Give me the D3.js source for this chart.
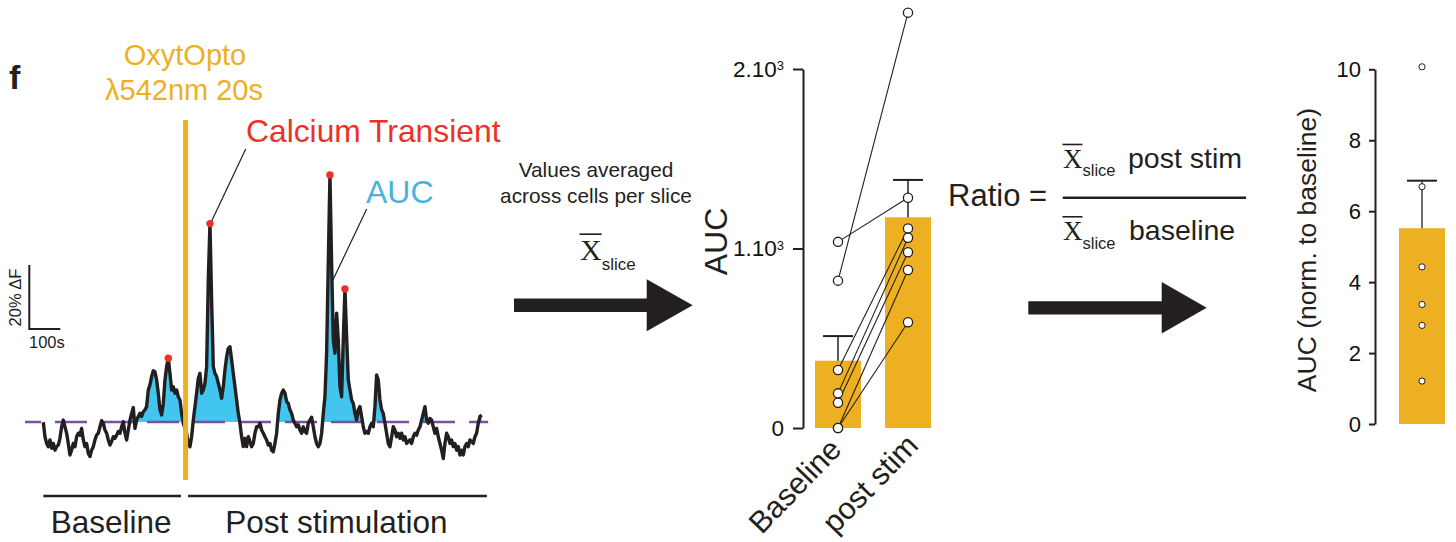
<!DOCTYPE html>
<html><head><meta charset="utf-8">
<script src="https://cdn.jsdelivr.net/npm/d3@7"></script>
<style>
body{margin:0;background:#fff;}
svg{display:block;font-family:"Liberation Sans",Arial,Helvetica,sans-serif;}
</style></head><body>
<svg id="c" width="1456" height="542"></svg>
<script>
// ================= DATA =================
// Calcium trace (ΔF, %) sampled every DT seconds
const DT = 5.376;
const traceDF = [
 -0.1,-4.6,-6.7,-7.7,-5.6,-8.2,-6.7,-8.8,-7.7,-7.2,
 -5.1,-1.5,0.6,-1.5,-3.5,-6.7,-10.3,-8.8,-6.7,-7.7,
 -4.6,-3.5,-4.1,-2.0,-5.6,-7.7,-6.7,-9.8,-10.8,-8.8,
 -7.7,-5.6,-4.1,-3.5,-1.5,0.4,-0.4,-2.5,-3.5,-5.6,
 -7.2,-6.1,-4.6,-5.1,-4.1,-3.0,-3.5,-1.5,0.1,-3.5,
 -5.6,-2.5,0.6,2.7,4.5,-2.0,0.6,1.7,2.7,1.7,
 3.2,3.8,4.8,10.0,11.6,14.2,16.0,15.7,13.1,9.0,
 3.8,2.2,5.8,13.1,17.3,19.9,15.2,10.0,11.0,9.0,
 10.0,7.9,6.9,2.7,-0.4,-2.0,-3.5,-6.7,-7.7,-4.6,
 0.6,4.8,9.0,13.6,15.2,9.0,10.0,12.1,17.3,44.4,
 62.0,38.1,17.3,15.2,14.2,12.1,10.0,7.4,11.0,16.3,
 20.4,23.0,23.5,19.4,15.2,11.0,6.9,2.7,-0.4,-4.6,
 -7.7,-5.1,-7.7,-4.6,-6.1,-7.7,-6.7,-3.5,-1.5,-1.5,
 -0.4,-2.5,-3.5,-4.6,-5.6,-7.2,-6.7,-8.8,-9.3,-6.7,
 -3.5,2.7,6.9,9.0,10.0,9.0,6.4,5.8,3.8,2.7,
 0.6,-0.4,-1.5,-0.9,-2.5,-3.5,-1.5,-3.0,-3.5,-0.4,
 0.6,1.5,-1.5,-4.6,-6.7,-7.7,-6.7,-3.5,2.7,7.9,
 21.5,49.6,77.2,49.6,25.6,21.5,34.0,25.6,11.0,7.9,
 25.6,41.6,26.7,13.1,10.0,6.9,5.8,2.7,0.6,3.8,
 4.8,1.7,-1.5,-3.5,-3.0,-3.5,-1.5,-0.4,-1.5,4.8,
 14.7,13.1,6.9,3.8,2.7,-0.4,-3.5,-6.7,-7.7,-4.6,
 -1.5,-2.5,-4.6,-3.5,-5.1,-3.5,-5.6,-4.6,-6.7,-6.1,
 -5.6,-6.7,-4.6,-3.5,-4.1,-2.5,-1.5,0.6,2.7,4.8,
 0.6,-0.4,1.1,0.6,-1.5,-3.5,-2.0,-4.6,-6.7,-8.8,
 -11.4,-6.7,-3.5,-4.6,-6.7,-5.6,-7.7,-6.7,-8.8,-7.7,
 -10.3,-8.8,-10.3,-7.7,-6.7,-7.7,-5.6,-6.1,-6.7,-4.6,
 -3.5,-0.4,1.7,2.2
];
const peakIdx = [75, 100, 172, 181];          // detected calcium transients
const stimTime = 459, stimDur = 20;           // s
const periodLabels = ["Baseline", "Post stimulation"];
const periodStart = [0, 467];
const periodEnd = [444, 1431];
const baselineExtent = [-59, 1435];

// AUC per slice
const aucCategories = ["Baseline", "post stim"];
const aucMeans = [375, 1174];
const aucSEM = [137, 208];
const aucBaseline = [1037, 821, 323, 193, 141, 0, 0];
const aucPost =     [1283, 2314, 1112, 1060, 979, 880, 589];
const aucTicks = [0, 1000, 2000];

// Ratio (normalized to baseline)
const ratioMean = 5.52;
const ratioSEM = 1.34;
const ratioPoints = [10.07, 6.69, 4.43, 3.37, 2.78, 1.21];
const ratioTicks = [0, 2, 4, 6, 8, 10];

// ================= STYLE =================
const INK = "#231f20", GOLD = "#EDB022", RED = "#EE3126", CYAN = "#42C6EF", BLUE = "#4AB3DD", PURPLE = "#7D4E9E";

const svg = d3.select("#c");

// ================= TRACE PANEL =================
const xT = d3.scaleLinear().domain([0, 1420]).range([43.3, 43.3 + 1420 * 0.31]);
const yT = d3.scaleLinear().domain([0, 20]).range([422, 358]);

const pts = traceDF.map((v, i) => [i * DT, v]);
const aug = [];
pts.forEach((p, i) => {
  if (i > 0) {
    const [t0, v0] = pts[i - 1], [t1, v1] = p;
    if ((v0 > 0) !== (v1 > 0) && v0 !== v1) {
      aug.push([t0 + (0 - v0) / (v1 - v0) * (t1 - t0), 0]);
    }
  }
  aug.push(p);
});
svg.append("path")
  .attr("d", d3.area().x(d => xT(d[0])).y0(yT(0)).y1(d => yT(Math.max(0, d[1])))(aug))
  .attr("fill", CYAN);

svg.append("line")
  .attr("x1", xT(baselineExtent[0])).attr("x2", xT(baselineExtent[1]))
  .attr("y1", yT(0)).attr("y2", yT(0))
  .attr("stroke", PURPLE).attr("stroke-width", 2.6)
  .attr("stroke-dasharray", "32,14").attr("stroke-dashoffset", 16);

svg.append("path")
  .attr("d", d3.line().x(d => xT(d[0])).y(d => yT(d[1]))(pts))
  .attr("fill", "none").attr("stroke", INK).attr("stroke-width", 3.4).attr("stroke-linejoin", "round");

// stimulation bar
svg.append("line")
  .attr("x1", xT(stimTime)).attr("x2", xT(stimTime))
  .attr("y1", 120).attr("y2", 480)
  .attr("stroke", GOLD).attr("stroke-width", 5);

// leader lines
svg.append("line").attr("x1", 245.7).attr("y1", 149).attr("x2", xT(peakIdx[1] * DT) + 1.5).attr("y2", yT(traceDF[peakIdx[1]]) - 2)
  .attr("stroke", INK).attr("stroke-width", 1.2);
svg.append("line").attr("x1", 366.7).attr("y1", 209).attr("x2", 331).attr("y2", 284)
  .attr("stroke", INK).attr("stroke-width", 1.2);

// peaks
svg.selectAll("circle.peak").data(peakIdx).join("circle").attr("class", "peak")
  .attr("cx", i => xT(i * DT)).attr("cy", i => yT(traceDF[i])).attr("r", 3.7).attr("fill", RED);

// scale bar
const sbx = 29.3, sby = 329;
svg.append("path")
  .attr("d", `M${sbx},${sby - (yT(0) - yT(20))}V${sby}H${sbx + (xT(100) - xT(0))}`)
  .attr("fill", "none").attr("stroke", INK).attr("stroke-width", 2);
svg.append("text").attr("transform", `translate(21,297.5) rotate(-90)`).attr("text-anchor", "middle")
  .attr("font-size", 16.5).attr("fill", INK).text("20% ΔF");
svg.append("text").attr("x", 29).attr("y", 348).attr("font-size", 16.5).attr("fill", INK).text("100s");

// periods
periodLabels.forEach((lab, k) => {
  svg.append("line").attr("x1", xT(periodStart[k])).attr("x2", xT(periodEnd[k]))
    .attr("y1", 496).attr("y2", 496).attr("stroke", INK).attr("stroke-width", 2.5);
  svg.append("text").attr("x", (xT(periodStart[k]) + xT(periodEnd[k])) / 2 - 1).attr("y", 533)
    .attr("text-anchor", "middle").attr("font-size", 31.5).attr("fill", INK).text(lab);
});

// annotation texts
svg.append("text").attr("x", 9).attr("y", 89).attr("font-size", 34).attr("font-weight", "bold").attr("fill", INK).text("f");
svg.append("text").attr("x", 185).attr("y", 65).attr("text-anchor", "middle").attr("font-size", 29).attr("fill", GOLD).text("OxytOpto");
svg.append("text").attr("x", 184).attr("y", 100).attr("text-anchor", "middle").attr("font-size", 29).attr("fill", GOLD).text("λ542nm 20s");
svg.append("text").attr("x", 246).attr("y", 142).attr("font-size", 31.8).attr("fill", RED).text("Calcium Transient");
svg.append("text").attr("x", 366).attr("y", 203).attr("font-size", 32).attr("fill", BLUE).text("AUC");

// ================= X-bar helper =================
function xbar(x, y, size, subSize, subDy) {
  const g = svg.append("g");
  g.append("text").attr("x", x).attr("y", y).attr("font-family", "'Liberation Serif','Times New Roman',serif")
    .attr("font-size", size).attr("fill", INK).text("X");
  const w = size * 0.722;
  g.append("line").attr("x1", x - 0.5).attr("x2", x + w).attr("y1", y - size * 0.86).attr("y2", y - size * 0.86)
    .attr("stroke", INK).attr("stroke-width", 1.6);
  g.append("text").attr("x", x + w).attr("y", y + subDy).attr("font-size", subSize).attr("fill", INK).text("slice");
}

// middle texts
svg.append("text").attr("x", 596).attr("y", 177).attr("text-anchor", "middle").attr("font-size", 20.8).attr("fill", INK).text("Values averaged");
svg.append("text").attr("x", 596).attr("y", 203).attr("text-anchor", "middle").attr("font-size", 20.8).attr("fill", INK).text("across cells per slice");
xbar(580, 260, 30, 17, 9.5);

// arrows
function arrow(x0, x1, xt, yc, sh, hh) {
  svg.append("path").attr("d", `M${x0},${yc - sh}H${x1}V${yc - hh}L${xt},${yc}L${x1},${yc + hh}V${yc + sh}H${x0}Z`).attr("fill", INK);
}
arrow(514, 646.7, 692.7, 305.2, 6.8, 26);
arrow(1028.3, 1161.7, 1206.7, 307.8, 6.6, 25.7);

// Ratio formula
svg.append("text").attr("x", 948).attr("y", 206).attr("font-size", 31).attr("fill", INK).text("Ratio =");
svg.append("line").attr("x1", 1062.7).attr("x2", 1246).attr("y1", 197.7).attr("y2", 197.7).attr("stroke", INK).attr("stroke-width", 2.5);
xbar(1063, 167.7, 27, 16.5, 8.5);
svg.append("text").attr("x", 1128).attr("y", 167.7).attr("font-size", 28.5).attr("fill", INK).text("post stim");
xbar(1063, 240, 27, 16.5, 9.3);
svg.append("text").attr("x", 1129).attr("y", 240).attr("font-size", 28.5).attr("fill", INK).text("baseline");

// ================= AUC BAR CHART =================
const yA = d3.scaleLinear().domain([0, 2000]).range([428, 69]);
const xA = d3.scaleBand().domain(aucCategories).range([815, 931]).paddingInner(24 / 70);
const axA = svg.append("g").attr("transform", "translate(803,0)")
  .call(d3.axisLeft(yA).tickValues(aucTicks).tickSize(10).tickSizeOuter(0).tickPadding(9));
axA.select(".domain").attr("stroke", INK).attr("stroke-width", 2);
axA.selectAll(".tick line").attr("stroke", INK).attr("stroke-width", 2);
axA.selectAll(".tick text").attr("font-size", 22.5).attr("font-family", "'Liberation Sans',Arial,sans-serif").attr("fill", "#111")
  .each(function (d) {
    if (d > 0) {
      const t = d3.select(this); t.text(null);
      t.append("tspan").text((d / 1000) + ".10");
      t.append("tspan").attr("dy", "-0.5em").attr("font-size", 13).text("3");
    }
  });
svg.append("text").attr("transform", "translate(727,241.5) rotate(-90)").attr("text-anchor", "middle")
  .attr("font-size", 32).attr("fill", INK).text("AUC");

svg.selectAll("rect.auc").data(aucCategories).join("rect").attr("class", "auc")
  .attr("x", d => xA(d)).attr("width", xA.bandwidth())
  .attr("y", (d, i) => yA(aucMeans[i])).attr("height", (d, i) => yA(0) - yA(aucMeans[i])).attr("fill", GOLD);
aucCategories.forEach((c, i) => {
  const cx = xA(c) + xA.bandwidth() / 2;
  svg.append("line").attr("x1", cx).attr("x2", cx).attr("y1", yA(aucMeans[i])).attr("y2", yA(aucMeans[i] + aucSEM[i]))
    .attr("stroke", INK).attr("stroke-width", 1.5);
  svg.append("line").attr("x1", cx - 15).attr("x2", cx + 15).attr("y1", yA(aucMeans[i] + aucSEM[i])).attr("y2", yA(aucMeans[i] + aucSEM[i]))
    .attr("stroke", INK).attr("stroke-width", 2);
});
const cB = xA(aucCategories[0]) + xA.bandwidth() / 2, cP = xA(aucCategories[1]) + xA.bandwidth() / 2;
aucBaseline.forEach((b, i) => {
  svg.append("line").attr("x1", cB).attr("y1", yA(b)).attr("x2", cP).attr("y2", yA(aucPost[i]))
    .attr("stroke", INK).attr("stroke-width", 1.1);
});
const aucDots = aucBaseline.map(v => [cB, v]).concat(aucPost.map(v => [cP, v]));
svg.selectAll("circle.aucpt").data(aucDots).join("circle").attr("class", "aucpt")
  .attr("cx", d => d[0]).attr("cy", d => yA(d[1])).attr("r", 4.6)
  .attr("fill", "#fff").attr("stroke", INK).attr("stroke-width", 1.3);

// rotated category labels
const labPos = [[843, 451], [920, 447]];
aucCategories.forEach((c, i) => {
  svg.append("text").attr("transform", `translate(${labPos[i][0]},${labPos[i][1]}) rotate(-46)`)
    .attr("text-anchor", "end").attr("font-size", 30.5).attr("fill", INK).text(c);
});

// ================= RATIO BAR =================
const yR = d3.scaleLinear().domain([0, 10]).range([424, 69.3]);
const xR = d3.scaleBand().domain(["ratio"]).range([1399, 1445]);
const axR = svg.append("g").attr("transform", "translate(1375,0)")
  .call(d3.axisLeft(yR).tickValues(ratioTicks).tickSize(6).tickSizeOuter(0).tickPadding(8));
axR.select(".domain").attr("stroke", INK).attr("stroke-width", 2);
axR.selectAll(".tick line").attr("stroke", INK).attr("stroke-width", 2);
axR.selectAll(".tick text").attr("font-size", 22).attr("font-family", "'Liberation Sans',Arial,sans-serif").attr("fill", "#111");
svg.append("text").attr("transform", "translate(1316,250) rotate(-90)").attr("text-anchor", "middle")
  .attr("font-size", 26.5).attr("fill", INK).text("AUC (norm. to baseline)");

const rc = xR("ratio") + xR.bandwidth() / 2;
svg.append("rect").attr("x", xR("ratio")).attr("width", xR.bandwidth())
  .attr("y", yR(ratioMean)).attr("height", yR(0) - yR(ratioMean)).attr("fill", GOLD);
svg.append("line").attr("x1", rc).attr("x2", rc).attr("y1", yR(ratioMean)).attr("y2", yR(ratioMean + ratioSEM))
  .attr("stroke", INK).attr("stroke-width", 1.3);
svg.append("line").attr("x1", rc - 15).attr("x2", rc + 15).attr("y1", yR(ratioMean + ratioSEM)).attr("y2", yR(ratioMean + ratioSEM))
  .attr("stroke", INK).attr("stroke-width", 2);
svg.selectAll("circle.rpt").data(ratioPoints).join("circle").attr("class", "rpt")
  .attr("cx", rc).attr("cy", d => yR(d)).attr("r", 3.1)
  .attr("fill", "#fff").attr("stroke", INK).attr("stroke-width", 1);
</script>
</body></html>
